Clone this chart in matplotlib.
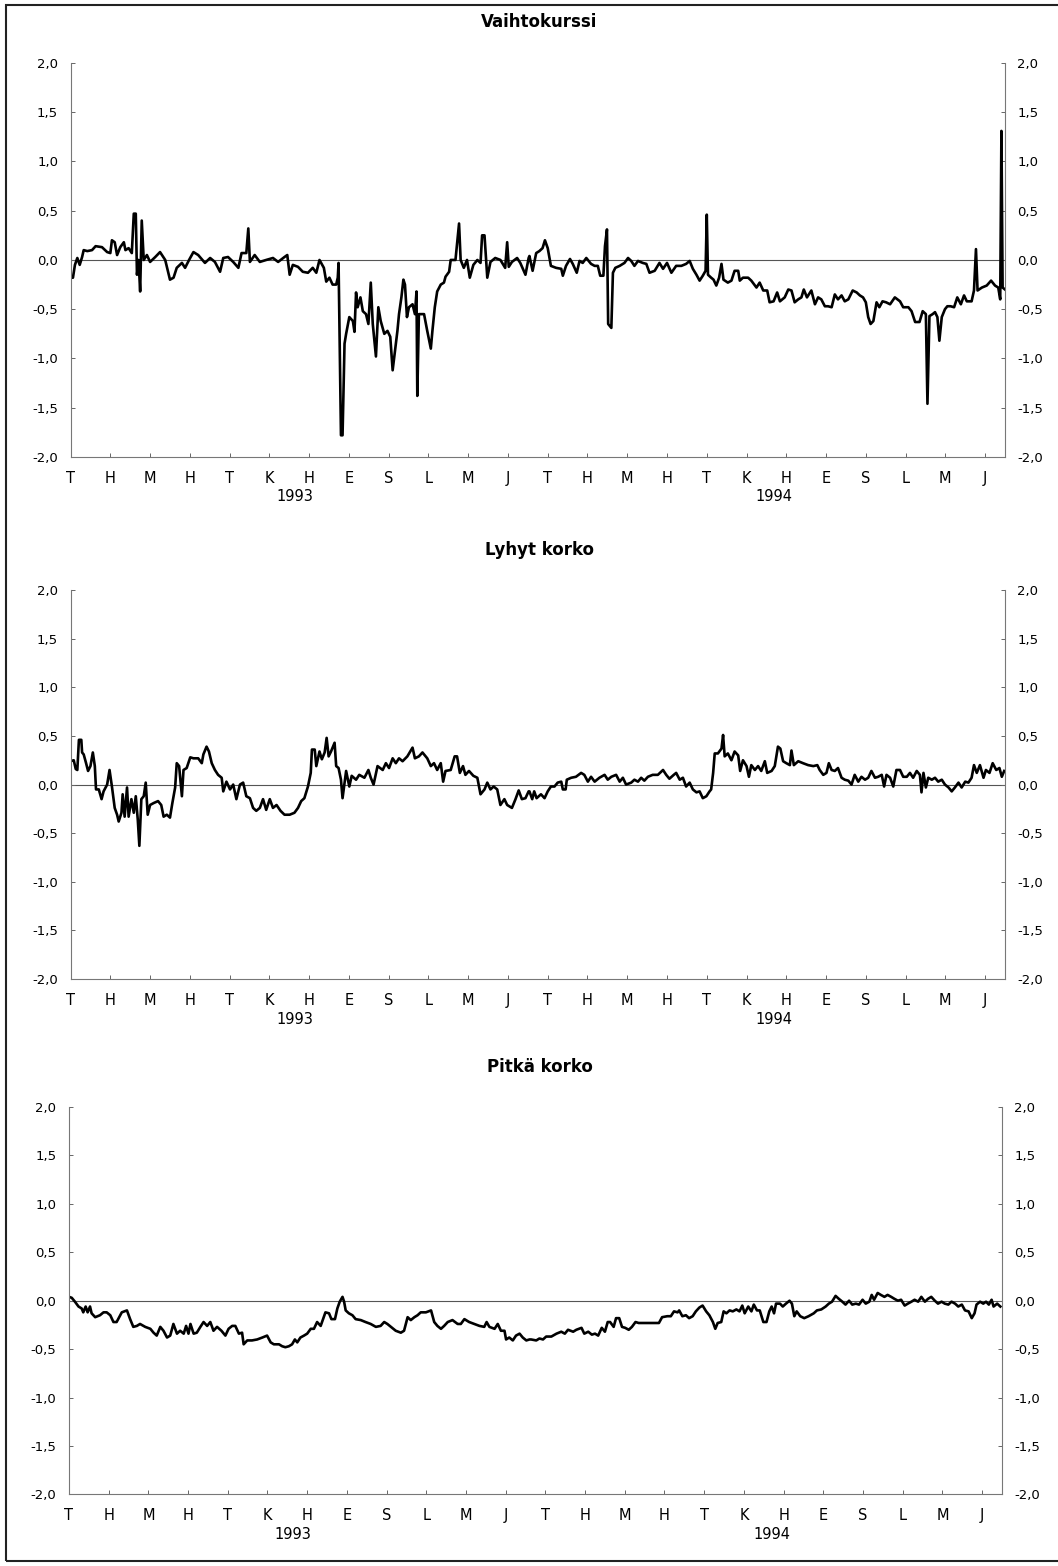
import matplotlib.pyplot as plt
from matplotlib.patches import Rectangle
from matplotlib.ticker import FuncFormatter

# kuukausien kirjaimet (tammikuu 1993 = 0), vuodet
kuukaudet = ['T', 'H', 'M', 'H', 'T', 'K', 'H', 'E', 'S', 'L', 'M', 'J'] * 2
vuodet = ['1993', '1994']
vuosi_kohta = [5.65, 17.7]

# --- Vaihtokurssi ---
vk_kk = [0.00, 0.06, 0.11, 0.17, 0.23, 0.29, 0.33, 0.42, 0.54, 0.63,
         0.79, 0.92, 1.00, 1.04, 1.11, 1.17, 1.25, 1.34, 1.38, 1.46,
         1.54, 1.59, 1.64, 1.67, 1.71, 1.75, 1.79, 1.84, 1.92, 2.00,
         2.13, 2.25, 2.38, 2.50, 2.59, 2.67, 2.80, 2.88, 2.98, 3.09,
         3.21, 3.38, 3.51, 3.63, 3.76, 3.84, 3.96, 4.09, 4.22, 4.30,
         4.42, 4.47, 4.51, 4.63, 4.76, 4.92, 5.09, 5.22, 5.38, 5.45,
         5.51, 5.59, 5.72, 5.84, 5.97, 6.09, 6.18, 6.26, 6.37, 6.43,
         6.51, 6.59, 6.68, 6.72, 6.74, 6.77, 6.80, 6.84, 6.89, 6.93,
         7.01, 7.10, 7.14, 7.18, 7.22, 7.29, 7.35, 7.43, 7.49, 7.55,
         7.60, 7.68, 7.74, 7.80, 7.89, 7.97, 8.04, 8.10, 8.16, 8.22,
         8.26, 8.32, 8.37, 8.41, 8.46, 8.51, 8.60, 8.66, 8.70, 8.72,
         8.76, 8.89, 8.97, 9.06, 9.10, 9.16, 9.22, 9.31, 9.39, 9.43,
         9.52, 9.56, 9.68, 9.77, 9.81, 9.89, 9.97, 10.04, 10.13, 10.23,
         10.31, 10.35, 10.41, 10.48, 10.56, 10.68, 10.81, 10.93, 10.98, 11.02,
         11.10, 11.23, 11.31, 11.44, 11.52,
         11.54, 11.62, 11.71, 11.79, 11.87, 11.93, 12.00, 12.08, 12.21, 12.34,
         12.38, 12.46, 12.56, 12.63, 12.73, 12.80, 12.88, 12.97, 13.09, 13.18,
         13.26, 13.32, 13.40, 13.44, 13.49, 13.52, 13.60, 13.64, 13.70, 13.81,
         13.93, 14.02, 14.10, 14.18, 14.27, 14.39, 14.48, 14.56, 14.69, 14.81,
         14.90, 15.00, 15.11, 15.23, 15.36, 15.48, 15.57, 15.65, 15.74, 15.82,
         15.90, 15.97, 16.00, 16.03, 16.11, 16.17, 16.24, 16.31, 16.37, 16.42,
         16.53, 16.62, 16.70, 16.79, 16.83, 16.91, 17.04, 17.12, 17.25, 17.33,
         17.42, 17.52, 17.58, 17.68, 17.77, 17.84, 17.96, 18.05, 18.13, 18.21,
         18.30, 18.38, 18.44, 18.52, 18.63, 18.72, 18.80, 18.88, 18.97, 19.05,
         19.14, 19.22, 19.30, 19.39, 19.47, 19.56, 19.67, 19.77, 19.85, 19.93,
         20.00, 20.06, 20.12, 20.19, 20.27, 20.34, 20.42, 20.51, 20.61, 20.73,
         20.86, 20.94, 21.07, 21.15, 21.24, 21.35, 21.43, 21.51, 21.55, 21.60,
         21.68, 21.74, 21.80, 21.85, 21.91, 21.99, 22.05, 22.13, 22.22, 22.30,
         22.39, 22.47, 22.54, 22.66, 22.72, 22.77, 22.81, 22.92, 23.04, 23.15,
         23.25, 23.33, 23.38, 23.41, 23.44, 23.50]
vk_arvo = [-0.18, -0.18, -0.05, 0.02, -0.05, 0.03, 0.10, 0.09, 0.10, 0.14,
           0.13, 0.08, 0.07, 0.20, 0.18, 0.05, 0.13, 0.18, 0.10, 0.12,
           0.07, 0.47, 0.47, -0.15, 0.00, -0.32, 0.40, 0.00, 0.05, -0.02,
           0.03, 0.08, 0.00, -0.20, -0.18, -0.08, -0.03, -0.08, 0.00, 0.08,
           0.05, -0.03, 0.02, -0.02, -0.12, 0.02, 0.03, -0.02, -0.08, 0.07,
           0.07, 0.32, -0.02, 0.05, -0.02, 0.00, 0.02, -0.02, 0.03, 0.05,
           -0.15, -0.05, -0.07, -0.12, -0.13, -0.08, -0.13, 0.00, -0.08, -0.22,
           -0.18, -0.25, -0.25, -0.18, -0.03, -0.88, -1.78, -1.78, -0.85, -0.75,
           -0.58, -0.62, -0.73, -0.33, -0.48, -0.38, -0.52, -0.55, -0.65, -0.23,
           -0.65, -0.98, -0.48, -0.62, -0.75, -0.72, -0.78, -1.12, -0.92, -0.72,
           -0.55, -0.38, -0.20, -0.25, -0.58, -0.48, -0.45, -0.55, -0.32, -1.38,
           -0.55, -0.55, -0.72, -0.90, -0.72, -0.48, -0.32, -0.25, -0.23, -0.17,
           -0.12, 0.00, 0.00, 0.37, 0.00, -0.08, 0.00, -0.18, -0.05, 0.00,
           -0.03, 0.25, 0.25, -0.18, -0.02, 0.02, 0.00, -0.08, 0.18, -0.07,
           -0.02, 0.02, -0.03, -0.15, 0.02,
           0.04, -0.11, 0.07, 0.09, 0.12, 0.20, 0.12, -0.06, -0.08, -0.09,
           -0.16, -0.06, 0.01, -0.04, -0.13, -0.01, -0.03, 0.02, -0.04, -0.06,
           -0.06, -0.16, -0.16, 0.14, 0.31, -0.65, -0.69, -0.13, -0.08, -0.06,
           -0.03, 0.02, -0.01, -0.06, -0.01, -0.03, -0.04, -0.13, -0.11, -0.03,
           -0.09, -0.03, -0.13, -0.06, -0.06, -0.04, -0.01, -0.09, -0.15, -0.21,
           -0.16, -0.11, 0.46, -0.15, -0.18, -0.20, -0.26, -0.18, -0.04, -0.20,
           -0.23, -0.21, -0.11, -0.11, -0.21, -0.18, -0.18, -0.21, -0.28, -0.23,
           -0.31, -0.31, -0.43, -0.42, -0.33, -0.42, -0.38, -0.30, -0.31, -0.43,
           -0.40, -0.38, -0.30, -0.38, -0.31, -0.45, -0.38, -0.40, -0.47, -0.47,
           -0.48, -0.35, -0.40, -0.36, -0.42, -0.40, -0.31, -0.33, -0.36, -0.38,
           -0.43, -0.58, -0.65, -0.62, -0.43, -0.48, -0.42, -0.43, -0.45, -0.38,
           -0.42, -0.48, -0.48, -0.52, -0.63, -0.63, -0.52, -0.55, -1.46, -0.57,
           -0.55, -0.53, -0.58, -0.82, -0.58, -0.50, -0.47, -0.47, -0.48, -0.38,
           -0.45, -0.36, -0.42, -0.42, -0.31, 0.11, -0.31, -0.28, -0.26, -0.21,
           -0.26, -0.28, -0.40, 1.31, -0.28, -0.30]

# --- Lyhyt korko ---
lk_kk = [0.00, 0.08, 0.13, 0.17, 0.21, 0.27, 0.29, 0.33, 0.39, 0.44,
         0.50, 0.56, 0.61, 0.64, 0.71, 0.78, 0.83, 0.92, 0.98, 1.04,
         1.11, 1.17, 1.21, 1.28, 1.31, 1.36, 1.42, 1.46, 1.53, 1.59,
         1.64, 1.69, 1.73, 1.78, 1.84, 1.89, 1.94, 2.00, 2.09, 2.20,
         2.28, 2.34, 2.42, 2.50, 2.56, 2.63, 2.67, 2.73, 2.80, 2.84,
         2.92, 3.01, 3.09, 3.21, 3.30, 3.34, 3.42, 3.48, 3.55, 3.63,
         3.71, 3.80, 3.84, 3.92, 4.01, 4.09, 4.17, 4.26, 4.34, 4.42,
         4.51, 4.59, 4.67, 4.76, 4.84, 4.92, 5.01, 5.09, 5.18, 5.28,
         5.38, 5.51, 5.63, 5.72, 5.80, 5.88, 5.97, 6.04, 6.07, 6.14,
         6.18, 6.26, 6.32, 6.39, 6.44, 6.49, 6.55, 6.64, 6.68, 6.74,
         6.80, 6.84, 6.89, 6.93, 7.01, 7.07, 7.18, 7.26, 7.39, 7.49,
         7.55, 7.62, 7.72, 7.85, 7.93, 8.01, 8.10, 8.18, 8.26, 8.35,
         8.47, 8.60, 8.66, 8.76, 8.85, 8.97, 9.06, 9.14, 9.22, 9.31,
         9.37, 9.43, 9.56, 9.66, 9.72, 9.79, 9.87, 9.93, 10.02, 10.13,
         10.23, 10.31, 10.41, 10.48, 10.56, 10.64, 10.73, 10.81, 10.91, 10.98,
         11.10, 11.19, 11.27, 11.35, 11.44, 11.52,
         11.54, 11.61, 11.66, 11.72, 11.83, 11.92, 12.00, 12.08, 12.17, 12.25,
         12.34, 12.38, 12.45, 12.48, 12.59, 12.71, 12.84, 12.92, 13.01, 13.09,
         13.18, 13.30, 13.43, 13.51, 13.60, 13.72, 13.81, 13.89, 13.97, 14.10,
         14.18, 14.27, 14.35, 14.43, 14.52, 14.64, 14.77, 14.90, 14.98, 15.06,
         15.17, 15.23, 15.32, 15.40, 15.48, 15.57, 15.65, 15.74, 15.82, 15.90,
         15.99, 16.07, 16.11, 16.16, 16.20, 16.28, 16.37, 16.41, 16.45, 16.53,
         16.62, 16.70, 16.79, 16.84, 16.91, 17.00, 17.06, 17.12, 17.21, 17.29,
         17.37, 17.46, 17.52, 17.63, 17.71, 17.79, 17.85, 17.92, 18.00, 18.09,
         18.13, 18.19, 18.30, 18.42, 18.55, 18.68, 18.78, 18.84, 18.93, 19.01,
         19.07, 19.14, 19.22, 19.30, 19.39, 19.47, 19.56, 19.64, 19.72, 19.81,
         19.89, 19.98, 20.06, 20.14, 20.23, 20.31, 20.40, 20.46, 20.52, 20.61,
         20.69, 20.77, 20.86, 20.94, 21.03, 21.11, 21.19, 21.28, 21.36, 21.40,
         21.45, 21.51, 21.57, 21.66, 21.74, 21.82, 21.91, 21.99, 22.08, 22.16,
         22.24, 22.33, 22.41, 22.50, 22.58, 22.66, 22.72, 22.79, 22.87, 22.96,
         23.02, 23.11, 23.19, 23.28, 23.36, 23.42, 23.48]
lk_arvo = [0.24, 0.25, 0.16, 0.15, 0.46, 0.46, 0.33, 0.31, 0.22, 0.14,
           0.19, 0.33, 0.19, -0.05, -0.05, -0.15, -0.07, 0.00, 0.15, -0.02,
           -0.24, -0.31, -0.38, -0.29, -0.10, -0.33, -0.03, -0.33, -0.15, -0.29,
           -0.12, -0.36, -0.63, -0.15, -0.12, 0.02, -0.31, -0.21, -0.19, -0.17,
           -0.21, -0.33, -0.31, -0.34, -0.19, -0.03, 0.22, 0.19, -0.12, 0.15,
           0.17, 0.28, 0.27, 0.27, 0.22, 0.31, 0.39, 0.34, 0.22, 0.15,
           0.10, 0.07, -0.07, 0.03, -0.05, 0.00, -0.15, 0.00, 0.02, -0.12,
           -0.14, -0.24, -0.27, -0.24, -0.15, -0.26, -0.15, -0.24, -0.21, -0.27,
           -0.31, -0.31, -0.29, -0.24, -0.17, -0.14, -0.02, 0.12, 0.36, 0.36,
           0.19, 0.34, 0.26, 0.33, 0.48, 0.29, 0.34, 0.43, 0.19, 0.17,
           0.05, -0.14, 0.02, 0.14, -0.02, 0.09, 0.05, 0.10, 0.07, 0.15,
           0.07, 0.00, 0.19, 0.15, 0.22, 0.17, 0.27, 0.22, 0.27, 0.24,
           0.29, 0.38, 0.27, 0.29, 0.33, 0.27, 0.19, 0.22, 0.15, 0.22,
           0.03, 0.14, 0.15, 0.29, 0.29, 0.12, 0.19, 0.10, 0.14, 0.09,
           0.07, -0.10, -0.05, 0.02, -0.05, -0.02, -0.05, -0.21, -0.15, -0.21,
           -0.24, -0.15, -0.06, -0.15, -0.14, -0.07,
           -0.07, -0.15, -0.07, -0.14, -0.10, -0.14, -0.07, -0.02, -0.02, 0.02,
           0.03, -0.05, -0.05, 0.05, 0.07, 0.08, 0.12, 0.10, 0.03, 0.08,
           0.03, 0.07, 0.10, 0.05, 0.08, 0.10, 0.03, 0.07, 0.00, 0.02,
           0.05, 0.03, 0.07, 0.04, 0.08, 0.10, 0.10, 0.15, 0.10, 0.06,
           0.10, 0.12, 0.05, 0.07, -0.02, 0.02, -0.05, -0.08, -0.07, -0.14,
           -0.12, -0.07, -0.05, 0.12, 0.32, 0.32, 0.37, 0.51, 0.29, 0.32,
           0.25, 0.34, 0.30, 0.14, 0.25, 0.19, 0.08, 0.20, 0.15, 0.19,
           0.14, 0.24, 0.12, 0.14, 0.19, 0.39, 0.37, 0.24, 0.22, 0.20,
           0.35, 0.20, 0.24, 0.22, 0.20, 0.19, 0.20, 0.15, 0.10, 0.12,
           0.22, 0.15, 0.14, 0.17, 0.07, 0.05, 0.04, 0.00, 0.10, 0.03,
           0.08, 0.05, 0.07, 0.14, 0.07, 0.08, 0.10, -0.02, 0.10, 0.07,
           -0.02, 0.15, 0.15, 0.08, 0.08, 0.12, 0.07, 0.14, 0.10, -0.08,
           0.12, -0.03, 0.07, 0.05, 0.07, 0.03, 0.05, 0.00, -0.03, -0.07,
           -0.03, 0.02, -0.03, 0.03, 0.02, 0.07, 0.20, 0.12, 0.20, 0.07,
           0.15, 0.12, 0.22, 0.15, 0.17, 0.08, 0.14]

# --- Pitkä korko ---
pk_kk = [0.00, 0.07, 0.15, 0.24, 0.32, 0.36, 0.42, 0.47, 0.53, 0.57,
         0.66, 0.78, 0.87, 0.95, 1.04, 1.12, 1.20, 1.33, 1.46, 1.54,
         1.62, 1.71, 1.79, 1.92, 2.05, 2.13, 2.21, 2.30, 2.38, 2.47,
         2.55, 2.63, 2.72, 2.80, 2.89, 2.95, 3.01, 3.06, 3.14, 3.22,
         3.31, 3.39, 3.48, 3.56, 3.64, 3.73, 3.84, 3.94, 4.02, 4.11,
         4.19, 4.28, 4.36, 4.40, 4.49, 4.61, 4.74, 4.87, 4.99, 5.08,
         5.16, 5.29, 5.37, 5.45, 5.54, 5.62, 5.69, 5.75, 5.83, 5.92,
         6.00, 6.09, 6.17, 6.25, 6.34, 6.40, 6.46, 6.55, 6.61, 6.70,
         6.76, 6.82, 6.89, 6.93, 6.97, 7.05, 7.14, 7.22, 7.35, 7.47,
         7.60, 7.73, 7.85, 7.94, 8.02, 8.11, 8.23, 8.36, 8.44, 8.53,
         8.61, 8.70, 8.78, 8.86, 8.99, 9.12, 9.20, 9.28, 9.37, 9.45,
         9.54, 9.66, 9.79, 9.87, 9.96, 10.08, 10.21, 10.34, 10.46, 10.52,
         10.59, 10.72, 10.80, 10.88, 10.97, 11.01, 11.09, 11.18, 11.26, 11.35,
         11.43, 11.52, 11.60,
         11.64, 11.77, 11.85, 11.94, 12.02, 12.15, 12.28, 12.40, 12.49, 12.57,
         12.70, 12.78, 12.91, 12.98, 13.08, 13.17, 13.25, 13.33, 13.42, 13.50,
         13.57, 13.63, 13.72, 13.78, 13.86, 13.93, 14.01, 14.10, 14.18, 14.27,
         14.35, 14.48, 14.61, 14.73, 14.86, 14.94, 15.07, 15.16, 15.24, 15.33,
         15.37, 15.45, 15.54, 15.62, 15.71, 15.79, 15.88, 15.96, 16.05, 16.13,
         16.22, 16.28, 16.34, 16.43, 16.49, 16.56, 16.64, 16.72, 16.81, 16.89,
         16.96, 17.02, 17.11, 17.19, 17.25, 17.33, 17.40, 17.49, 17.57, 17.64,
         17.70, 17.76, 17.81, 17.91, 17.98, 18.06, 18.15, 18.21, 18.27, 18.33,
         18.42, 18.52, 18.63, 18.76, 18.84, 18.95, 19.06, 19.14, 19.22, 19.31,
         19.39, 19.48, 19.56, 19.65, 19.73, 19.82, 19.90, 19.99, 20.07, 20.16,
         20.22, 20.28, 20.37, 20.45, 20.54, 20.62, 20.71, 20.79, 20.88, 20.96,
         21.05, 21.13, 21.22, 21.30, 21.39, 21.47, 21.56, 21.64, 21.72, 21.81,
         21.89, 21.98, 22.06, 22.15, 22.23, 22.32, 22.40, 22.49, 22.57, 22.66,
         22.74, 22.81, 22.86, 22.95, 23.03, 23.10, 23.17, 23.24, 23.29, 23.38,
         23.46]
pk_arvo = [0.04, 0.03, -0.01, -0.06, -0.08, -0.12, -0.06, -0.12, -0.06, -0.13,
           -0.17, -0.15, -0.12, -0.12, -0.15, -0.22, -0.22, -0.12, -0.10, -0.19,
           -0.27, -0.26, -0.24, -0.27, -0.29, -0.33, -0.36, -0.27, -0.31, -0.38,
           -0.36, -0.24, -0.34, -0.31, -0.34, -0.26, -0.34, -0.24, -0.34, -0.33,
           -0.27, -0.22, -0.26, -0.22, -0.31, -0.27, -0.31, -0.36, -0.29, -0.26,
           -0.26, -0.34, -0.33, -0.45, -0.41, -0.41, -0.40, -0.38, -0.36, -0.43,
           -0.45, -0.45, -0.47, -0.48, -0.47, -0.45, -0.40, -0.43, -0.38, -0.36,
           -0.34, -0.29, -0.29, -0.22, -0.26, -0.19, -0.12, -0.13, -0.19, -0.19,
           -0.08, -0.01, 0.04, -0.01, -0.10, -0.13, -0.15, -0.19, -0.20, -0.22,
           -0.24, -0.27, -0.26, -0.22, -0.24, -0.27, -0.31, -0.33, -0.31, -0.17,
           -0.20, -0.17, -0.15, -0.12, -0.12, -0.10, -0.22, -0.26, -0.29, -0.26,
           -0.22, -0.20, -0.24, -0.24, -0.19, -0.22, -0.24, -0.26, -0.27, -0.22,
           -0.27, -0.29, -0.24, -0.31, -0.31, -0.40, -0.38, -0.41, -0.36, -0.34,
           -0.38, -0.41, -0.40,
           -0.40, -0.41, -0.39, -0.40, -0.37, -0.37, -0.34, -0.32, -0.34, -0.30,
           -0.32, -0.30, -0.28, -0.34, -0.32, -0.35, -0.34, -0.36, -0.28, -0.32,
           -0.22, -0.22, -0.27, -0.18, -0.18, -0.27, -0.28, -0.30, -0.27, -0.22,
           -0.23, -0.23, -0.23, -0.23, -0.23, -0.17, -0.16, -0.16, -0.11, -0.12,
           -0.10, -0.16, -0.15, -0.18, -0.16, -0.11, -0.07, -0.05, -0.11, -0.15,
           -0.22, -0.29, -0.23, -0.22, -0.11, -0.13, -0.10, -0.11, -0.09, -0.11,
           -0.05, -0.13, -0.06, -0.11, -0.04, -0.10, -0.10, -0.22, -0.22, -0.11,
           -0.06, -0.13, -0.03, -0.03, -0.06, -0.03, 0.00, -0.03, -0.16, -0.11,
           -0.16, -0.18, -0.16, -0.13, -0.10, -0.09, -0.06, -0.03, -0.01, 0.05,
           0.02, -0.01, -0.04, 0.00, -0.04, -0.03, -0.04, 0.01, -0.03, -0.01,
           0.06, 0.01, 0.08, 0.06, 0.04, 0.06, 0.04, 0.02, 0.00, 0.01,
           -0.05, -0.03, -0.01, 0.01, -0.01, 0.04, -0.01, 0.02, 0.04, 0.00,
           -0.03, -0.01, -0.03, -0.04, -0.01, -0.03, -0.06, -0.04, -0.10, -0.11,
           -0.18, -0.13, -0.04, -0.01, -0.03, -0.01, -0.04, 0.01, -0.06, -0.03,
           -0.06]

otsikot = ['Vaihtokurssi', 'Lyhyt korko', 'Pitkä korko']
sarjat = [(vk_kk, vk_arvo), (lk_kk, lk_arvo), (pk_kk, pk_arvo)]

# paneelien paikat kuvassa (vasen, ala, leveys, korkeus) ja otsikon korkeus
paikat = [[0.0667, 0.7082, 0.8832, 0.2516],
          [0.0667, 0.3748, 0.8832, 0.2484],
          [0.0652, 0.0457, 0.8818, 0.2474]]
otsikko_y = [0.986, 0.6488, 0.3186]

fontti = 'DejaVu Sans'
pilkku = FuncFormatter(lambda v, p: ('%.1f' % v).replace('.', ','))

fig = plt.figure(figsize=(10.58, 15.66), dpi=100)

for i in range(3):
    ax = fig.add_axes(paikat[i])
    kk, arvo = sarjat[i]
    ax.axhline(0, color='#555555', lw=0.8, zorder=1)
    ax.plot(kk, arvo, color='black', lw=1.9, zorder=2)

    ax.set_xlim(0, 23.5)
    ax.set_ylim(-2.0, 2.0)
    ax.set_yticks([-2.0, -1.5, -1.0, -0.5, 0.0, 0.5, 1.0, 1.5, 2.0])
    ax.yaxis.set_major_formatter(pilkku)
    ax.set_xticks(range(24))
    ax.set_xticklabels(kuukaudet, fontsize=10.5, family=fontti)
    for t in ax.get_yticklabels():
        t.set_family(fontti)

    ax.tick_params(axis='y', direction='in', length=3, width=0.7, color='#666666',
                   left=True, right=True, labelleft=True, labelright=True,
                   labelsize=9.5, pad=9)
    ax.tick_params(axis='x', direction='in', length=3, width=0.7, color='#666666',
                   pad=10)

    ax.spines['top'].set_visible(False)
    for s in ['left', 'right', 'bottom']:
        ax.spines[s].set_color('#777777')
        ax.spines[s].set_linewidth(0.8)

    for v, x in zip(vuodet, vuosi_kohta):
        ax.annotate(v, xy=(x, 0), xycoords=('data', 'axes fraction'),
                    xytext=(0, -40), textcoords='offset pixels',
                    ha='center', va='center', fontsize=10.5, family=fontti)

    fig.text(0.510, otsikko_y[i], otsikot[i], ha='center', va='center',
             fontsize=12, fontweight='bold', family=fontti)

# kehys kuvan ympärillä
fig.patches.append(Rectangle((0.0057, 0.0032), 1.2, 0.9936, transform=fig.transFigure,
                             fill=False, edgecolor='#222222', lw=1.5))

fig.savefig('out.png', dpi=100)
